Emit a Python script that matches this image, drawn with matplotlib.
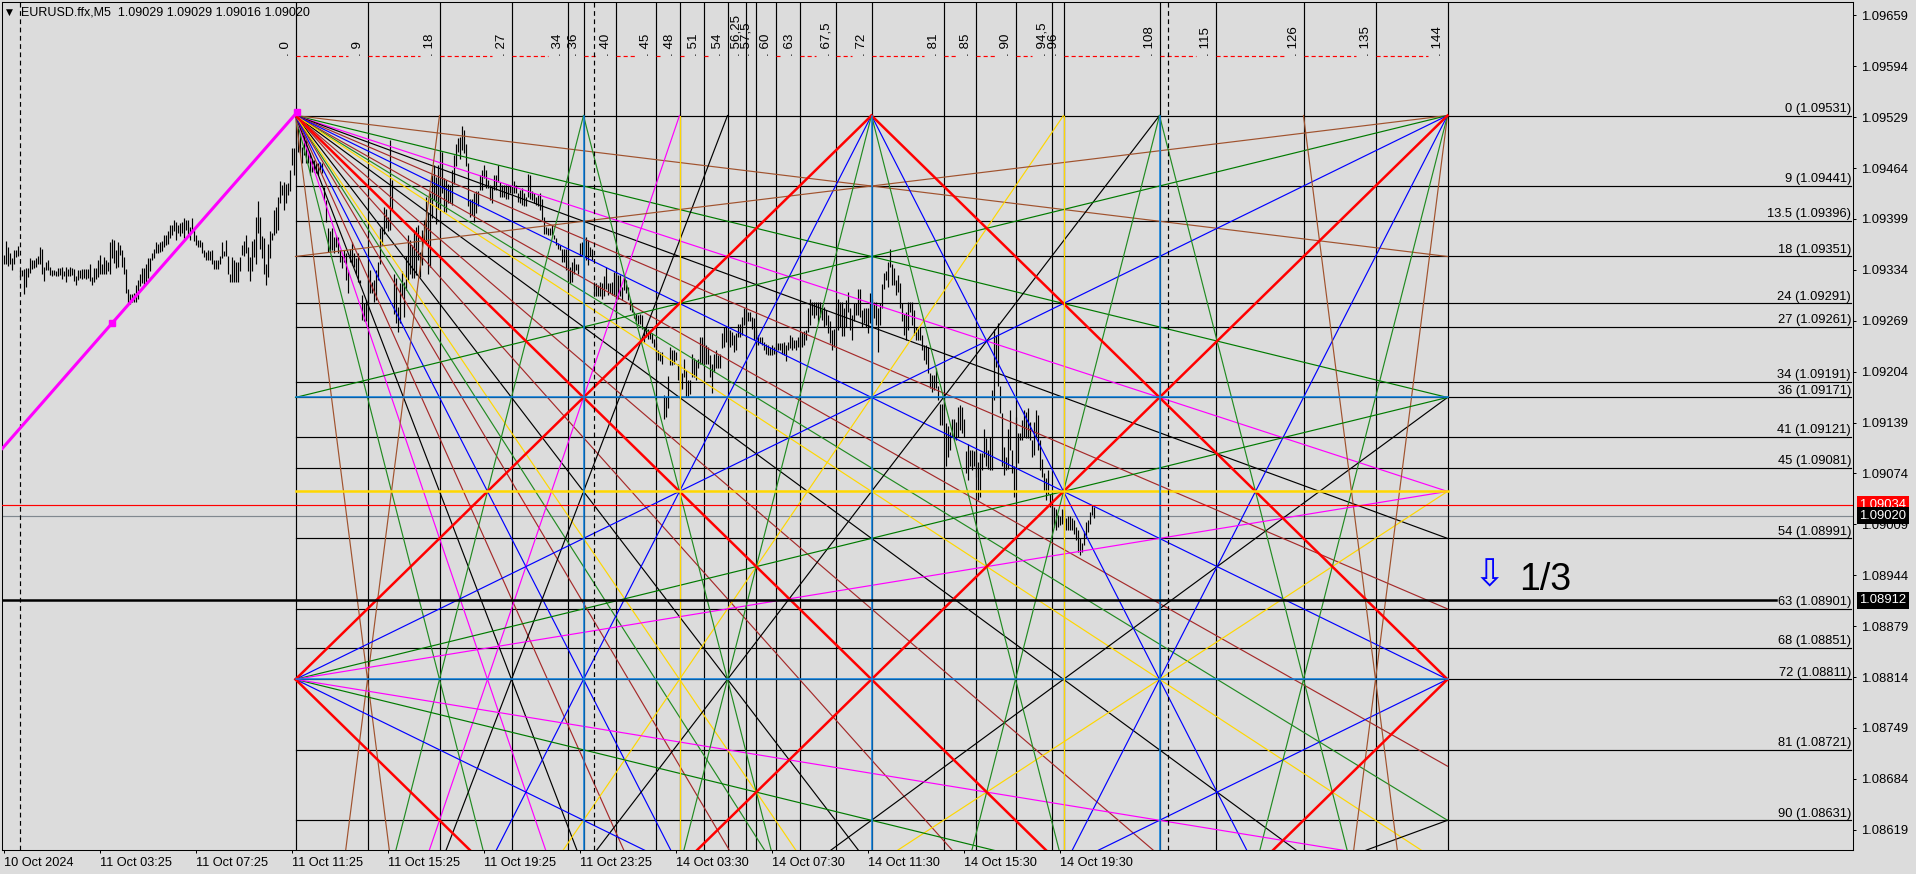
import numpy as np
import matplotlib
matplotlib.use('Agg')
import matplotlib.pyplot as plt

plt.rcParams['font.family'] = ['Liberation Sans', 'DejaVu Sans']

# bar highs / lows in points above 1.08000, one per M5 bar
bar_high = [1353,1371,1363,1356,1349,1359,1359,1364,1334,1334,
    1335,1336,1336,1349,1346,1346,1349,1352,1363,1360,
    1337,1344,1346,1337,1334,1334,1333,1336,1336,1337,
    1332,1337,1335,1337,1336,1335,1326,1334,1334,1335,
    1335,1335,1335,1341,1325,1336,1336,1347,1353,1342,
    1350,1346,1344,1370,1373,1372,1359,1369,1366,1359,
    1350,1335,1309,1303,1303,1304,1315,1321,1329,1336,
    1336,1342,1349,1349,1355,1360,1370,1367,1370,1371,
    1378,1378,1383,1391,1391,1398,1395,1391,1394,1395,
    1400,1398,1398,1389,1400,1385,1378,1372,1372,1370,
    1359,1357,1359,1358,1359,1346,1346,1346,1352,1370,
    1358,1372,1351,1329,1350,1346,1344,1344,1350,1366,
    1371,1378,1363,1350,1371,1373,1402,1422,1402,1377,
    1374,1342,1367,1383,1381,1411,1414,1427,1448,1442,
    1446,1443,1445,1461,1489,1489,1529,1515,1508,1491,
    1506,1500,1483,1483,1474,1474,1470,1470,1472,1470,
    1440,1423,1387,1383,1387,1376,1378,1376,1359,1351,
    1359,1355,1334,1361,1370,1355,1349,1355,1321,1302,
    1291,1295,1329,1334,1319,1321,1334,1344,1387,1389,
    1414,1412,1402,1500,1449,1329,1323,1287,1317,1332,
    1319,1351,1378,1372,1366,1385,1389,1391,1357,1385,
    1398,1427,1406,1432,1455,1468,1453,1468,1449,1485,
    1451,1449,1444,1442,1461,1481,1495,1502,1504,1518,
    1512,1495,1470,1425,1425,1432,1434,1434,1455,1461,
    1468,1461,1449,1442,1440,1455,1455,1468,1446,1442,
    1442,1442,1442,1442,1441,1448,1442,1432,1436,1438,
    1432,1427,1456,1455,1434,1432,1427,1429,1432,1424,
    1402,1389,1388,1387,1391,1378,1374,1368,1366,1361,
    1361,1361,1346,1338,1344,1349,1342,1342,1368,1370,
    1376,1376,1372,1363,1361,1319,1317,1314,1319,1317,
    1326,1338,1317,1317,1319,1331,1331,1327,1327,1312,
    1325,1321,1312,1297,1291,1280,1278,1276,1278,1276,
    1261,1261,1259,1257,1253,1246,1240,1231,1229,1229,
    1174,1172,1199,1236,1231,1231,1229,1214,1214,1202,
    1220,1206,1193,1193,1227,1221,1219,1220,1248,1248,
    1240,1238,1236,1225,1214,1227,1231,1225,1227,1253,
    1261,1261,1257,1257,1255,1251,1253,1265,1265,1274,
    1285,1287,1280,1280,1274,1272,1257,1251,1248,1248,
    1242,1239,1238,1236,1238,1236,1240,1240,1240,1240,
    1242,1238,1242,1251,1248,1244,1244,1248,1251,1255,
    1256,1257,1285,1297,1293,1293,1293,1293,1293,1289,
    1287,1283,1276,1268,1257,1259,1285,1297,1293,1293,
    1285,1295,1306,1285,1276,1291,1291,1309,1309,1283,
    1285,1285,1285,1304,1297,1293,1293,1285,1291,1316,
    1330,1333,1344,1360,1342,1336,1321,1327,1317,1291,
    1278,1280,1293,1293,1293,1283,1261,1261,1261,1251,
    1238,1238,1236,1202,1200,1200,1208,1185,1163,1163,
    1178,1138,1134,1127,1144,1144,1140,1159,1161,1159,
    1144,1102,1112,1104,1104,1102,1102,1089,1100,1100,
    1131,1119,1104,1121,1180,1259,1251,1266,1185,1151,
    1108,1095,1131,1155,1104,1083,1146,1125,1125,1142,
    1155,1153,1157,1140,1117,1140,1155,1148,1117,1093,
    1074,1068,1078,1048,1036,1031,1029,1021,1019,1029,
    1027,1017,1019,1019,1017,1014,1006,1002,991,985,
    1000,1012,1014,1025,1034,1031]
bar_low = [1341,1341,1339,1341,1334,1341,1350,1352,1325,1326,
    1303,1312,1325,1330,1335,1336,1338,1342,1341,1329,
    1320,1334,1334,1327,1326,1327,1326,1326,1327,1322,
    1326,1318,1326,1326,1327,1320,1315,1321,1324,1322,
    1323,1322,1323,1320,1314,1319,1322,1325,1329,1329,
    1329,1329,1332,1329,1349,1343,1336,1337,1353,1338,
    1329,1304,1291,1290,1293,1293,1293,1297,1313,1317,
    1315,1319,1323,1332,1347,1349,1355,1355,1357,1358,
    1363,1366,1367,1374,1378,1383,1372,1381,1377,1381,
    1374,1385,1376,1372,1383,1371,1366,1363,1363,1355,
    1350,1346,1346,1346,1342,1335,1335,1335,1342,1349,
    1351,1352,1329,1319,1319,1319,1318,1319,1332,1353,
    1352,1355,1332,1320,1332,1350,1342,1381,1360,1349,
    1329,1315,1325,1349,1372,1378,1381,1385,1419,1429,
    1410,1419,1429,1434,1468,1455,1495,1485,1483,1470,
    1481,1470,1470,1455,1459,1459,1457,1455,1461,1457,
    1423,1395,1357,1357,1359,1355,1363,1355,1344,1336,
    1344,1321,1304,1344,1340,1338,1329,1319,1317,1270,
    1268,1268,1280,1304,1304,1293,1295,1321,1342,1366,
    1380,1387,1383,1385,1410,1278,1266,1255,1266,1300,
    1274,1308,1321,1329,1323,1323,1327,1346,1325,1340,
    1370,1368,1329,1338,1400,1423,1393,1412,1417,1432,
    1408,1408,1419,1419,1417,1444,1466,1485,1476,1487,
    1483,1466,1415,1402,1404,1395,1406,1415,1436,1436,
    1451,1438,1438,1423,1419,1436,1436,1446,1427,1427,
    1427,1425,1424,1432,1432,1432,1432,1421,1419,1417,
    1415,1415,1427,1425,1423,1419,1417,1415,1410,1398,
    1380,1380,1378,1378,1378,1373,1366,1361,1359,1344,
    1344,1334,1321,1317,1319,1329,1334,1329,1351,1353,
    1351,1346,1340,1351,1346,1302,1300,1300,1300,1297,
    1300,1310,1302,1304,1302,1300,1278,1297,1300,1295,
    1308,1304,1295,1283,1280,1272,1268,1265,1265,1259,
    1242,1248,1246,1246,1240,1236,1227,1219,1217,1214,
    1144,1146,1157,1212,1212,1214,1219,1193,1180,1182,
    1197,1172,1172,1176,1197,1197,1193,1208,1214,1214,
    1214,1214,1214,1197,1177,1204,1208,1208,1208,1234,
    1236,1242,1238,1236,1238,1229,1231,1248,1248,1251,
    1263,1265,1268,1268,1259,1244,1240,1238,1240,1238,
    1231,1227,1225,1225,1225,1227,1227,1231,1231,1227,
    1225,1218,1231,1234,1231,1234,1231,1236,1236,1236,
    1238,1244,1255,1263,1276,1272,1276,1266,1274,1270,
    1261,1263,1253,1240,1232,1236,1261,1257,1261,1249,
    1249,1261,1280,1257,1244,1268,1276,1276,1274,1261,
    1266,1261,1253,1266,1261,1272,1263,1229,1263,1285,
    1310,1321,1312,1338,1315,1315,1302,1306,1285,1268,
    1251,1244,1257,1280,1263,1251,1244,1244,1244,1232,
    1219,1214,1202,1183,1178,1180,1183,1168,1136,1136,
    1155,1083,1095,1104,1121,1117,1117,1121,1129,1125,
    1121,1074,1065,1083,1078,1083,1070,1040,1044,1078,
    1095,1083,1080,1078,1078,1168,1210,1185,1151,1083,
    1072,1078,1080,1104,1074,1044,1087,1087,1117,1117,
    1121,1119,1119,1117,1095,1097,1121,1104,1078,1070,
    1051,1040,1048,1031,1010,1006,1002,1006,1008,1010,
    1012,1002,1002,1002,1002,997,989,974,970,974,
    982,991,999,1010,1021,1017]

# axis ticks
time_ticks = [0, 48, 96, 144, 192, 240, 288, 336, 384, 432, 480, 528]
time_labels = ['10 Oct 2024', '11 Oct 03:25', '11 Oct 07:25', '11 Oct 11:25', '11 Oct 15:25', '11 Oct 19:25',
               '11 Oct 23:25', '14 Oct 03:30', '14 Oct 07:30', '14 Oct 11:30', '14 Oct 15:30', '14 Oct 19:30']
price_ticks = [1.09659, 1.09594, 1.09529, 1.09464, 1.09399, 1.09334, 1.09269, 1.09204, 1.09139,
               1.09074, 1.09009, 1.08944, 1.08879, 1.08814, 1.08749, 1.08684, 1.08619]

# Gann square: levels are below 1.09531 in steps of 0.0001, time in steps of 4 bars
level_names = ['0', '9', '13.5', '18', '24', '27', '34', '36', '41', '45', '54', '63', '68', '72', '81', '90']
level_prices = [1.09531, 1.09441, 1.09396, 1.09351, 1.09291, 1.09261, 1.09191, 1.09171,
                1.09121, 1.09081, 1.08991, 1.08901, 1.08851, 1.08811, 1.08721, 1.08631]
time_names = ['0', '9', '18', '27', '34', '36', '40', '45', '48', '51', '54', '56,25', '57,5', '60', '63',
              '67,5', '72', '81', '85', '90', '94,5', '96', '108', '115', '126', '135', '144']
time_steps = [0, 9, 18, 27, 34, 36, 40, 45, 48, 51, 54, 56.25, 57.5, 60, 63,
              67.5, 72, 81, 85, 90, 94.5, 96, 108, 115, 126, 135, 144]

# fan slopes per colour (level per step)
fan_top_left = {
    '#a0522d': [1/8, 8],
    '#007a00': [1/4],
    '#228b22': [4, 5/8, 8/5],
    '#ff00ff': [1/3, 3],
    '#000000': [3/8, 8/3, 3/4, 4/3],
    '#a52a2a': [7/16, 16/7, 0.577, 1.73, 7/8, 8/7],
    '#0000ff': [1/2, 2],
    '#ffd700': [2/3, 3/2],
}
fan_bottom_left = {
    '#a0522d': [8],
    '#228b22': [4],
    '#ff00ff': [3],
    '#000000': [8/3, 3/8, 4/3, 3/4],
    '#ffd700': [3/2, 2/3],
    '#0000ff': [2, 1/2],
}
fan_top_right = {
    '#a0522d': [1/8, 8],
    '#007a00': [1/4],
    '#228b22': [4],
    '#0000ff': [1/2, 2],
}
fan_bottom_right = {
    '#a0522d': [8],
    '#228b22': [4],
    '#0000ff': [2, 1/2],
}
left_mid_fan = {'#007a00': 1/4, '#ff00ff': 1/6}
green_zigzag = [(36, 0, 72, 144), (72, 0, 36, 144), (72, 0, 108, 144), (108, 0, 72, 144)]
red_lines = [(0, 0, 144, 144), (0, 144, 144, 0), (0, 72, 72, 0), (0, 72, 72, 144), (72, 0, 144, 72), (72, 144, 144, 72)]

origin_bar = 146
bars_per_step = 4
thin = 0.85
thick = 1.8


def bar_of(step):
    return origin_bar + bars_per_step * step


def price_of(level):
    return 1.09531 - level * 0.0001


def seg(ax, s0, l0, s1, l1, color, lw=thin):
    ax.plot([bar_of(s0), bar_of(s1)], [price_of(l0), price_of(l1)], color=color, lw=lw, zorder=3)


def slope_end(s):
    # where a line with this slope leaves the 144 x 144 square
    return (144, 144 * s) if s <= 1 else (144 / s, 144)


fig = plt.figure(figsize=(19.16, 8.74), dpi=100, facecolor='#dcdcdc')
ax = fig.add_axes([2.4 / 1916, 1 - 850.3 / 874, 1850.4 / 1916, 848 / 874], facecolor='#dcdcdc')
ax.set_xlim(-0.55, 924.65)
ax.set_ylim(1.085927, 1.096756)

# price bars
x = np.arange(len(bar_high))
ax.vlines(x, 1.08 + np.array(bar_low) * 1e-5, 1.08 + np.array(bar_high) * 1e-5,
          color='black', lw=thin, zorder=2)

# level lines and vertical time lines
right_end = 923.8
for name, p in zip(level_names, level_prices):
    ax.plot([origin_bar, right_end], [p, p], color='black', lw=thin, zorder=2)
    ax.text(right_end, p + 0.00001, f'{name} ({p:.5f})', ha='right', va='bottom', fontsize=9.3, color='black', zorder=6)

top_price = 1.09607
for i, (name, s) in enumerate(zip(time_names, time_steps)):
    b = bar_of(s)
    ax.plot([b, b], [1.085927, 1.096756], color='black', lw=thin, zorder=2)
    ax.text(b - 4.6, top_price, '. ' + name, rotation=90, ha='center', va='bottom', fontsize=9.6, color='black', zorder=6)
    if i + 1 < len(time_steps):
        end = bar_of(time_steps[i + 1]) - 10
        if end > b:
            ax.plot([b, end], [top_price, top_price], color='red', lw=thin, ls=(0, (3.5, 2.5)), zorder=3)

# fans
for color, slopes in fan_top_left.items():
    for s in slopes:
        e = slope_end(s)
        seg(ax, 0, 0, e[0], e[1], color)
for color, slopes in fan_bottom_left.items():
    for s in slopes:
        e = slope_end(s)
        seg(ax, 0, 144, e[0], 144 - e[1], color)
for color, slopes in fan_top_right.items():
    for s in slopes:
        e = slope_end(s)
        seg(ax, 144, 0, 144 - e[0], e[1], color)
for color, slopes in fan_bottom_right.items():
    for s in slopes:
        e = slope_end(s)
        seg(ax, 144, 144, 144 - e[0], 144 - e[1], color)
for color, s in left_mid_fan.items():
    seg(ax, 0, 72, 144, 72 - 144 * s, color)
    seg(ax, 0, 72, 144, 72 + 144 * s, color)
for s0, l0, s1, l1 in green_zigzag:
    seg(ax, s0, l0, s1, l1, '#228b22')
for s0, l0, s1, l1 in red_lines:
    seg(ax, s0, l0, s1, l1, '#ff0000', lw=thick)

# blue and yellow cross lines
for s in [36, 72, 108]:
    ax.plot([bar_of(s)] * 2, [1.085927, 1.09531], color='#0a7fe0', lw=1.1, zorder=4)
for l in [36, 72]:
    seg(ax, 0, l, 144, l, '#0a7fe0', lw=1.1)
for s in [48, 96]:
    ax.plot([bar_of(s)] * 2, [1.085927, 1.09531], color='#ffd700', lw=thin, zorder=4)
seg(ax, 0, 48, 144, 48, '#ffd700', lw=thick)

# dashed day separators
for b in [8, 295, 582]:
    ax.plot([b, b], [1.085927, 1.096756], color='black', lw=thin, ls=(0, (4, 3)), zorder=3)

# price lines
ax.axhline(1.09034, color='#ff0000', lw=thin, zorder=5)
ax.axhline(1.09020, color='#80888f', lw=thin, zorder=1)
ax.plot([-0.55, 886], [1.08912, 1.08912], color='black', lw=thick, zorder=5)

# magenta trend line with its two anchor squares
trend_bars = [-0.55, 54.35, 146.75]
trend_prices = [1.09106, 1.09266, 1.09535]
ax.plot(trend_bars, trend_prices, color='#ff00ff', lw=2.2, zorder=5)
ax.plot(trend_bars[1:], trend_prices[1:], ls='', marker='s', ms=5, mfc='#ff00ff', mec='#ff00ff', zorder=5)

# axes
ax.xaxis.tick_bottom()
ax.yaxis.tick_right()
ax.set_xticks(time_ticks)
ax.set_xticklabels(time_labels, fontsize=9.2, ha='left')
ax.set_yticks(price_ticks)
ax.set_yticklabels([f'{p:.5f}' for p in price_ticks], fontsize=9.4)
ax.tick_params(axis='x', length=2.5, width=0.72, pad=2.5)
ax.tick_params(axis='y', length=2.5, width=0.72, pad=3.5)
for sp in ax.spines.values():
    sp.set_linewidth(0.75)
    sp.set_color('black')

# coloured price flags on the right axis
for p, fc in [(1.09034, '#ff0000'), (1.09020, 'black'), (1.08912, 'black')]:
    ax.annotate(f'{p:.5f}', xy=(1, p), xycoords=ax.get_yaxis_transform(), xytext=(4.6, 0), textcoords='offset points',
                va='center', ha='left', fontsize=9.4, color='white', annotation_clip=False, zorder=10,
                bbox=dict(boxstyle='square,pad=0.18', fc=fc, ec='none'))

# header and the 1/3 note
fig.text(6 / 1916, 1 - 12.5 / 874, '▼', fontsize=6.5, color='black', family='DejaVu Sans', va='center')
fig.text(21 / 1916, 1 - 12.5 / 874, 'EURUSD.ffx,M5  1.09029 1.09029 1.09016 1.09020', fontsize=9, color='black', va='center')
fig.text(1489 / 1916, 1 - 576 / 874, '⇩', fontsize=27, color='#0000ff', family='DejaVu Sans', ha='center', va='center')
fig.text(1519 / 1916, 1 - 580 / 874, '1/3', fontsize=27, color='black', va='center')

plt.savefig('out.png', dpi=100, facecolor=fig.get_facecolor())
